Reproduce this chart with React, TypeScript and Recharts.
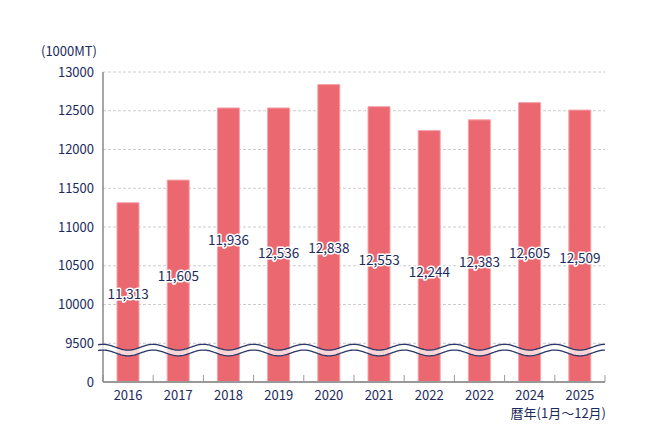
import React from "react";
import {
  Bar,
  CartesianGrid,
  ComposedChart,
  Line,
  ReferenceArea,
  XAxis,
  YAxis,
} from "recharts";

// values above the break are drawn shifted down by this much
const BREAK_OFFSET = 9000;

const years = ["2016", "2017", "2018", "2019", "2020", "2021", "2022", "2022", "2024", "2025"];
const barValues = [11313, 11605, 12536, 12536, 12838, 12553, 12244, 12383, 12605, 12509];
const labelValues = [11313, 11605, 11936, 12536, 12838, 12553, 12244, 12383, 12605, 12509];
// where each label sits (in axis values)
const labelAt = [10152, 10381, 10841, 10681, 10742, 10583, 10432, 10565, 10681, 10617];
const yTickValues = [0, 9500, 10000, 10500, 11000, 11500, 12000, 12500, 13000];

const NAVY = "#1c2a5c";
const BAR = "#eb6871";
const FONT = "'Noto Sans CJK JP', 'Noto Sans', sans-serif";

const shift = (v: number) => (v === 0 ? 0 : v - BREAK_OFFSET);

const data = years.map((year, i) => ({
  year,
  bar: shift(barValues[i]),
  labelPos: shift(labelAt[i]),
  label: labelValues[i].toLocaleString("en-US"),
}));

const WaveBreak = (props: any) => {
  const { x, y, width, height } = props;
  const period = width / years.length;
  const amp = 2.9;
  const start = x - 5;
  const end = x + width;
  const wave = (px: number, base: number) =>
    base + amp * Math.cos((2 * Math.PI * (px - (x + period / 2))) / period);
  const top: string[] = [];
  const bottom: string[] = [];
  for (let px = start; px <= end; px += 1) {
    top.push(`${px},${wave(px, y).toFixed(2)}`);
    bottom.push(`${px},${wave(px, y + height).toFixed(2)}`);
  }
  const band = `M${top.join(" L")} L${bottom.slice().reverse().join(" L")} Z`;
  return (
    <g>
      <path d={band} fill="#fff" fillOpacity={0.72} stroke="none" />
      <path d={`M${top.join(" L")}`} fill="none" stroke="#2b3766" strokeWidth={1.3} />
      <path d={`M${bottom.join(" L")}`} fill="none" stroke="#2b3766" strokeWidth={1.3} />
    </g>
  );
};

const ValueLabel = (props: any) => {
  const { cx, cy, payload, index } = props;
  if (cx == null || cy == null) return null;
  return (
    <text
      key={`lbl-${index}`}
      x={cx}
      y={cy}
      textAnchor="middle"
      dominantBaseline="central"
      fontSize={13.5}
      fill={NAVY}
      stroke="#fff"
      strokeWidth={3}
      strokeLinejoin="round"
      paintOrder="stroke"
    >
      {payload.label}
    </text>
  );
};

const boundaryTick = (props: any) => {
  const { x1, y2, index } = props;
  return <line key={`bt-${index}`} x1={x1} x2={x1} y1={y2 - 7} y2={y2} stroke="#999" strokeWidth={1} />;
};

const App = () => {
  return (
    <div
      style={{
        position: "absolute",
        left: 0,
        top: 0,
        width: 650,
        height: 440,
        fontFamily: FONT,
        color: NAVY,
        background: "#fff",
      }}
    >
      <div style={{ position: "absolute", left: 41, top: 44, fontSize: 13, lineHeight: "14px" }}>
        (1000MT)
      </div>
      <div
        style={{
          position: "absolute",
          left: 0,
          width: 606,
          top: 406,
          fontSize: 13,
          lineHeight: "14px",
          textAlign: "right",
        }}
      >
        暦年(1月〜12月)
      </div>
      <ComposedChart
        width={650}
        height={440}
        data={data}
        margin={{ top: 72, right: 45, bottom: 28, left: 43 }}
      >
        <CartesianGrid vertical={false} stroke="#cccccc" strokeDasharray="3 2" />
        <CartesianGrid
          horizontal={false}
          vertical={boundaryTick}
          verticalCoordinatesGenerator={({ offset }: any) =>
            Array.from({ length: years.length + 1 }, (_, i) => offset.left + (i * offset.width) / years.length)
          }
        />
        <XAxis
          dataKey="year"
          interval={0}
          tickLine={false}
          tickSize={0}
          tickMargin={9}
          axisLine={{ stroke: "#999", strokeWidth: 2 }}
          tick={{ fill: NAVY, fontSize: 13 }}
        />
        <YAxis
          width={60}
          domain={[0, shift(13000)]}
          ticks={yTickValues.map(shift)}
          tickFormatter={(v: number) => (v === 0 ? "0" : String(v + BREAK_OFFSET))}
          tickLine={false}
          tickSize={0}
          tickMargin={9}
          axisLine={{ stroke: "#888", strokeWidth: 1.5 }}
          tick={{ fill: NAVY, fontSize: 13 }}
        />
        <Bar dataKey="bar" fill={BAR} stroke="#f5a3a9" strokeWidth={1} barSize={22} isAnimationActive={false} />
        <ReferenceArea
          y1={375}
          y2={449}
          zIndex={1000}
          ifOverflow="visible"
          shape={(p: any) => <WaveBreak {...p} />}
        />
        <Line
          dataKey="labelPos"
          stroke="none"
          dot={ValueLabel}
          activeDot={false}
          legendType="none"
          isAnimationActive={false}
        />
      </ComposedChart>
    </div>
  );
};

export default App;
